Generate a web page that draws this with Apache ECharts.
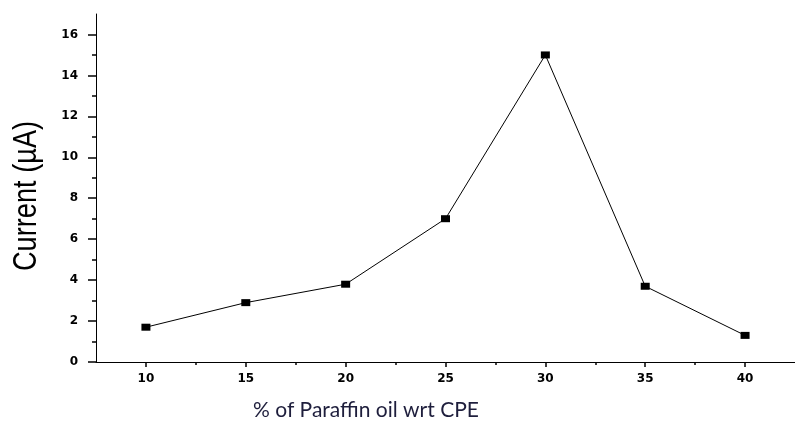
<!DOCTYPE html>
<html>
<head>
<meta charset="utf-8">
<script src="https://cdn.jsdelivr.net/npm/echarts@6/dist/echarts.min.js"></script>
<style>
  html, body { margin: 0; padding: 0; background: #ffffff; }
  #chart { width: 795px; height: 426px; }
</style>
</head>
<body>
<div id="chart"></div>
<script>
// Paraffin oil content (% wrt CPE) and the measured peak current (µA)
const paraffinPct = [10, 15, 20, 25, 30, 35, 40];
const currentUA = [1.7, 2.9, 3.8, 7.0, 15.0, 3.7, 1.3];

// Tick positions
const xMajorTicks = [10, 15, 20, 25, 30, 35, 40];
const xMinorTicks = [12.5, 17.5, 22.5, 27.5, 32.5, 37.5];
const yMajorTicks = [0, 2, 4, 6, 8, 10, 12, 14, 16];
const yMinorTicks = [1, 3, 5, 7, 9, 11, 13, 15];

const points = paraffinPct.map((x, i) => [x, currentUA[i]]);

const tickFont = {
  color: '#000',
  fontFamily: 'DejaVu Sans',
  fontWeight: 'bold',
  fontSize: 12
};

const chart = echarts.init(document.getElementById('chart'), null, { renderer: 'canvas' });

chart.setOption({
  backgroundColor: '#ffffff',
  animation: false,
  grid: { left: 96, top: 14, width: 702, height: 348, containLabel: false },
  xAxis: [
    {
      type: 'value', min: 7.5, max: 42.5,
      axisLine: { show: true, lineStyle: { color: '#000', width: 1 } },
      axisTick: { show: true, inside: false, length: 5, customValues: xMajorTicks, lineStyle: { color: '#000', width: 1.5 } },
      axisLabel: Object.assign({ margin: 11, customValues: xMajorTicks }, tickFont),
      splitLine: { show: false }
    },
    {
      type: 'value', min: 7.5, max: 42.5, position: 'bottom',
      axisLine: { show: false },
      axisTick: { show: true, inside: false, length: 3, customValues: xMinorTicks, lineStyle: { color: '#000', width: 1.5 } },
      axisLabel: { show: false },
      splitLine: { show: false }
    }
  ],
  yAxis: [
    {
      type: 'value', min: 0, max: 17,
      axisLine: { show: true, lineStyle: { color: '#000', width: 1 } },
      axisTick: { show: true, inside: false, length: 8, customValues: yMajorTicks, lineStyle: { color: '#000', width: 1.5 } },
      axisLabel: Object.assign({ margin: 18, customValues: yMajorTicks }, tickFont),
      splitLine: { show: false }
    },
    {
      type: 'value', min: 0, max: 17, position: 'left',
      axisLine: { show: false },
      axisTick: { show: true, inside: false, length: 4, customValues: yMinorTicks, lineStyle: { color: '#000', width: 1.5 } },
      axisLabel: { show: false },
      splitLine: { show: false }
    }
  ],
  graphic: [
    {
      // narrow, tall axis title: compress along the reading direction
      type: 'text',
      x: 27, y: 196,
      rotation: Math.PI / 2,
      scaleX: 0.8,
      style: {
        text: 'Current (µA)',
        fill: '#000',
        font: '34px "Liberation Sans", Arial, sans-serif',
        textAlign: 'center',
        textVerticalAlign: 'middle'
      }
    },
    {
      type: 'text',
      x: 253, y: 410,
      style: {
        text: '% of Paraffin oil wrt CPE',
        fill: '#1e1e3c',
        font: '21px Lato, "Open Sans", sans-serif',
        textAlign: 'left',
        textVerticalAlign: 'middle'
      }
    }
  ],
  series: [
    {
      type: 'line',
      xAxisIndex: 0,
      yAxisIndex: 0,
      data: points,
      symbol: 'rect',
      symbolSize: [9, 7],
      itemStyle: { color: '#000' },
      lineStyle: { color: '#000', width: 1 }
    }
  ]
});
</script>
</body>
</html>
